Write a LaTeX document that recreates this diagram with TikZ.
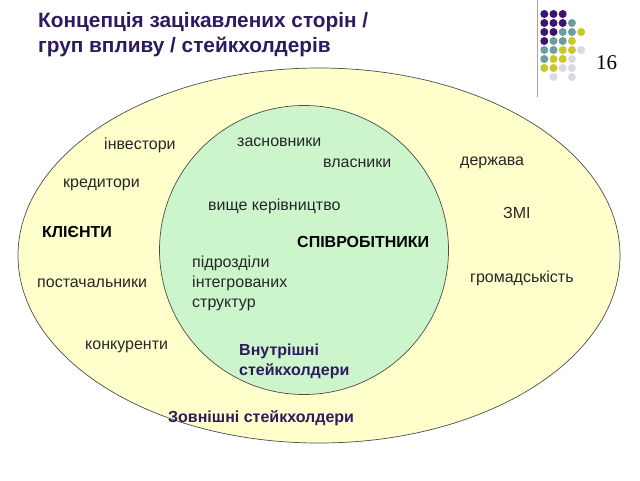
\documentclass[tikz,border=0pt]{standalone}
\usepackage{fontspec}
\setmainfont{Liberation Sans}
\newfontfamily\numfont{Liberation Serif}
\definecolor{titlecol}{HTML}{2E1A5E}
\definecolor{outerfill}{HTML}{FFFFCC}
\definecolor{innerfill}{HTML}{CCF5CC}
\definecolor{dotP}{HTML}{3A1670}
\definecolor{dotT}{HTML}{6E9E9C}
\definecolor{dotY}{HTML}{C9C72A}
\definecolor{dotL}{HTML}{DADAE6}
\begin{document}
\begin{tikzpicture}[x=1pt,y=-1pt,
  lbl/.style={anchor=west,inner sep=0pt,font=\fontsize{16}{20}\selectfont,text=black!85,align=left},
  bigl/.style={anchor=west,inner sep=0pt,font=\fontsize{16}{20}\selectfont\bfseries,text=black,align=left},
  navyl/.style={anchor=west,inner sep=0pt,font=\fontsize{16}{20}\selectfont\bfseries,text=titlecol,align=left},
  titl/.style={anchor=west,inner sep=0pt,font=\fontsize{20.8}{25}\selectfont\bfseries,text=titlecol,align=left},
  dot/.style={circle,inner sep=0pt,minimum size=8pt}]
\useasboundingbox[fill=white] (0,0) rectangle (640,480);
% title
\node[titl] (title) at (38,35) {Концепція зацікавлених сторін /\\груп впливу / стейкхолдерів};
% corner decoration
\draw[gray!70,line width=0.8pt] (537,0) coordinate (vt) -- (537,97) coordinate (vb);
\foreach \r/\cols in {0/{P,P,P},1/{P,P,P,T},2/{P,P,T,T,Y},3/{P,T,T,Y},4/{T,T,Y,Y,L},5/{T,Y,Y,L},6/{Y,Y,L,L}}{
  \foreach \c [count=\i from 0] in \cols {
    \node[dot,fill=dot\c] (d\r-\i) at ({544.3+9.2*\i},{14+9*\r}) {};
  }
}
\node[dot,fill=dotL] (d7-1) at ({544.3+9.2},77) {};
\node[dot,fill=dotL] (d7-3) at ({544.3+9.2*3},77) {};
\node[anchor=west,inner sep=0pt,font=\numfont\fontsize{21}{21}\selectfont] (num) at (596,63) {16};
% ellipses
\draw[fill=outerfill,draw=black!70,line width=0.7pt] (319,255.5) ellipse [x radius=301,y radius=187.5];
\node[draw=black!70,line width=0.7pt,fill=innerfill,circle,minimum size=289pt,inner sep=0pt] (inner) at (304,250) {};
% outer labels
\node[lbl] (inv) at (104,145) {інвестори};
\node[lbl] (kred) at (63,185) {кредитори};
\node[bigl] (kli) at (42,232) {КЛІЄНТИ};
\node[lbl] (post) at (37,283) {постачальники};
\node[lbl] (konk) at (85,347) {конкуренти};
\node[lbl] (derzh) at (460,163) {держава};
\node[lbl] (zmi) at (503,213) {ЗМІ};
\node[lbl] (hrom) at (470,278) {громадськість};
\node[navyl] (zovn) at (168,418) {Зовнішні стейкхолдери};
% inner labels
\node[lbl] (zasn) at (237,142) {засновники};
\node[lbl] (vlas) at (323,163) {власники};
\node[lbl] (vyshche) at (208,206) {вище керівництво};
\node[bigl] (spivr) at (297,242) {СПІВРОБІТНИКИ};
\node[lbl] (pidr) at (192,283) {підрозділи\\інтегрованих\\структур};
\node[navyl] (vnutr) at (239,361) {Внутрішні\\стейкхолдери};
\end{tikzpicture}
\end{document}
